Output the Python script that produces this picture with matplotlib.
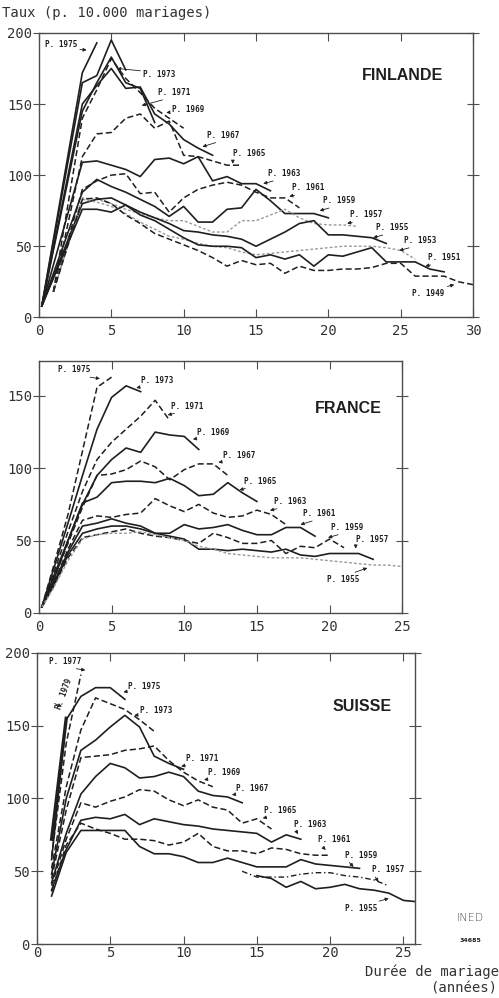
import matplotlib
matplotlib.use("Agg")
import matplotlib.pyplot as plt

# ---- Finlande : taux de divorce par promotion de mariage ----
FI_YEARS = [1975, 1973, 1971, 1969, 1967, 1965, 1963, 1961, 1959, 1957, 1955, 1953, 1951, 1949]
FI_X = [
    [0.2, 3, 4],
    [0.2, 3, 4, 5, 6],
    [0.2, 3, 4, 5, 6, 7, 8],
    [1, 3, 4, 5, 6, 7, 8, 9, 10],
    [0.2, 3, 4, 5, 6, 7, 8, 9, 10, 11, 12],
    [1] + list(range(3, 15)),
    [0.2] + list(range(3, 17)),
    [1] + list(range(3, 19)),
    [0.2] + list(range(3, 21)),
    [1] + list(range(3, 23)),
    [0.2] + list(range(3, 25)),
    [1] + list(range(3, 27)),
    [0.2] + list(range(3, 29)),
    [1] + list(range(3, 31)),
]
FI_Y = [
    [8, 172, 193],
    [8, 165, 170, 195, 174],
    [8, 145, 165, 183, 165, 161, 137],
    [18, 140, 160, 182, 168, 158, 147, 140, 133],
    [8, 150, 163, 175, 161, 162, 143, 136, 125, 119, 114],
    [18, 113, 129, 130, 140, 143, 133, 138, 114, 113, 110, 107, 107],
    [8, 109, 110, 107, 104, 99, 111, 112, 108, 113, 96, 99, 94, 94, 89],
    [18, 90, 96, 100, 101, 87, 88, 74, 84, 90, 93, 95, 93, 88, 84, 84, 77],
    [8, 88, 97, 92, 88, 83, 78, 71, 78, 67, 67, 76, 77, 90, 82, 73, 73, 73, 70],
    [18, 84, 83, 80, 76, 73, 70, 68, 68, 64, 60, 60, 68, 68, 72, 76, 70, 66, 65, 65, 64],
    [8, 80, 83, 84, 79, 74, 70, 66, 61, 60, 58, 57, 55, 50, 55, 60, 66, 68, 58, 58, 57, 56, 52],
    [18, 83, 81, 78, 73, 67, 62, 57, 55, 52, 50, 49, 46, 44, 45, 46, 47, 48, 49, 50, 50, 50, 49, 47, 41],
    [8, 76, 76, 74, 79, 72, 68, 62, 56, 51, 50, 50, 49, 42, 44, 41, 44, 36, 44, 43, 46, 49, 39, 39, 39, 34, 32],
    [18, 83, 84, 80, 72, 66, 59, 55, 51, 47, 42, 36, 40, 37, 38, 31, 36, 33, 33, 34, 34, 35, 38, 38, 29, 29, 29, 25, 23],
]
FI_STYLE = ["s", "s", "s", "d", "s", "d", "s", "d", "s", "l", "s", "l", "s", "d"]
# label text position, arrow tip (data units)
FI_LAB = [(0.4, 192), (7.2, 171), (8.2, 158), (9.2, 146), (11.6, 128), (13.4, 115), (15.8, 101),
          (17.5, 91), (19.6, 82), (21.5, 72), (23.3, 63), (25.2, 54), (26.9, 42), (25.8, 17)]
FI_TIP = [(3.3, 188), (5.4, 175), (7.1, 149), (8.8, 144), (11.3, 120), (13.4, 108), (15.5, 94),
          (17.3, 85), (19.4, 75), (21.3, 66), (23.1, 56), (24.9, 47), (26.7, 36), (28.7, 23)]

# ---- France ----
FR_YEARS = [1975, 1973, 1971, 1969, 1967, 1965, 1963, 1961, 1959, 1957, 1955]
FR_Y = [
    [4, 32, 68, 112, 156, 163],
    [4, 30, 62, 95, 127, 149, 157, 153],
    [4, 27, 56, 84, 106, 118, 127, 136, 147, 133],
    [4, 25, 50, 75, 95, 106, 114, 111, 125, 123, 122, 113],
    [4, 23, 48, 73, 95, 96, 99, 105, 101, 92, 99, 103, 103, 95],
    [4, 22, 50, 76, 80, 90, 91, 91, 90, 93, 88, 81, 82, 90, 83, 77],
    [4, 20, 44, 64, 67, 66, 68, 69, 79, 74, 70, 75, 69, 66, 67, 71, 68, 61],
    [4, 19, 40, 55, 58, 60, 60, 58, 55, 55, 61, 58, 59, 61, 57, 54, 54, 59, 59, 53],
    [4, 18, 38, 52, 54, 56, 58, 55, 53, 52, 50, 48, 55, 52, 48, 48, 50, 41, 46, 45, 51, 45],
    [4, 20, 42, 60, 62, 65, 62, 60, 55, 53, 51, 44, 44, 43, 44, 43, 42, 44, 40, 39, 41, 41, 41, 37],
    [4, 17, 36, 51, 54, 55, 55, 56, 54, 52, 50, 46, 44, 41, 40, 39, 38, 38, 38, 37, 36, 35, 34, 33, 33, 32],
]
FR_X = [[0.2] + list(range(1, len(y))) for y in FR_Y]
FR_STYLE = ["d", "s", "d", "s", "d", "s", "d", "s", "d", "s", "l"]
FR_LAB = [(1.3, 168), (7.0, 161), (9.1, 143), (10.9, 125), (12.65, 109), (14.1, 91), (16.2, 77),
          (18.2, 68.5), (20.1, 59), (21.8, 51), (19.8, 23)]
FR_TIP = [(4.2, 162), (6.7, 155.6), (8.86, 136.8), (10.6, 120), (12.35, 104), (13.8, 85), (15.9, 70.8),
          (18.0, 61), (19.9, 52), (21.8, 44.4), (22.6, 31)]

# ---- Suisse ----
CH_YEARS = [1979, 1977, 1975, 1973, 1971, 1969, 1967, 1965, 1963, 1961, 1959, 1957, 1955]
CH_Y = [
    [72, 155],
    [60, 138, 185],
    [58, 154, 170, 176, 176, 168],
    [52, 108, 147, 169, 165, 161, 154, 146],
    [48, 100, 133, 140, 149, 157, 149, 129, 124, 120],
    [45, 92, 128, 129, 130, 133, 134, 136, 126, 118, 112, 108],
    [42, 76, 103, 115, 124, 121, 114, 115, 118, 115, 105, 102, 101, 97],
    [40, 72, 97, 94, 98, 101, 106, 105, 99, 95, 99, 94, 92, 83, 86, 79],
    [37, 65, 85, 87, 86, 89, 82, 86, 84, 82, 81, 79, 78, 77, 76, 70, 75, 72],
    [36, 68, 83, 79, 76, 72, 72, 71, 68, 70, 76, 67, 64, 64, 62, 66, 65, 62, 61, 61],
    [33, 63, 78, 78, 78, 78, 67, 62, 62, 60, 56, 56, 59, 56, 53, 53, 53, 58, 55, 54, 53, 52],
    [50, 46, 46, 46, 48, 49, 49, 47, 46, 44, 40],
    [47, 45, 39, 43, 38, 39, 41, 38, 37, 35, 30, 29],
]
CH_START = [1, 1, 1, 1, 1, 1, 1, 1, 1, 1, 1, 14, 15]
CH_X = [list(range(s, s + len(y))) for s, y in zip(CH_START, CH_Y)]
CH_STYLE = ["t", "d", "s", "d", "s", "d", "s", "d", "s", "d", "s", "dd", "s"]
CH_LAB = [(1.2, 172), (0.8, 194), (6.2, 177), (7.0, 160), (10.2, 127.6), (11.7, 117.7), (13.6, 107),
          (15.5, 92), (17.55, 82), (19.2, 71.5), (21.0, 61), (22.85, 51), (21.0, 24.5)]
CH_TIP = [(1.7, 163), (3.3, 188), (5.9, 173), (6.64, 157), (9.84, 122), (11.4, 112.7), (13.3, 102.4),
          (15.4, 86.4), (17.8, 75.4), (19.7, 64.6), (21.6, 53), (23.3, 42.8), (24.0, 31.4)]

INK = "0.12"
MONO = "DejaVu Sans Mono"
STYLES = {
    "s": dict(color=INK, lw=1.2, ls="-"),
    "t": dict(color=INK, lw=2.4, ls="-"),
    "d": dict(color=INK, lw=1.1, ls=(0, (4, 2))),
    "dd": dict(color=INK, lw=1.0, ls=(0, (4, 2, 1, 2))),
    "l": dict(color="0.6", lw=1.0, ls=(0, (2, 1.5))),
}


def draw_panel(ax, years, xs, ys, styles, labs, tips, name, name_pos, xlim, ylim, yticks, xticks,
               xpad=5):
    for yr, x, y, st, lab, tip in zip(years, xs, ys, styles, labs, tips):
        ax.plot(x, y, **STYLES[st])
        right = lab[0] > tip[0]
        rot = 70 if (name == "SUISSE" and yr == 1979) else 0
        ax.annotate(f"P. {yr}", xy=tip, xytext=lab, fontsize=5.5, family=MONO,
                    fontweight="bold", color=INK, rotation=rot,
                    ha="left", va="center",
                    arrowprops=dict(arrowstyle="-|>", lw=0.6, color=INK, mutation_scale=5,
                                    shrinkA=0, shrinkB=0,
                                    relpos=(1, 0.5) if right else (0, 0.2)))
    ax.text(name_pos[0], name_pos[1], name, family="Liberation Sans", fontweight="bold",
            fontsize=11.5, color=INK, ha="center", va="center")
    ax.set_xlim(*xlim)
    ax.set_ylim(*ylim)
    ax.set_yticks(yticks)
    ax.set_xticks(xticks)
    ax.tick_params(direction="in", top=True, right=True, length=6, width=0.8,
                   color="0.3", labelsize=10, labelcolor="0.2")
    ax.tick_params(axis="x", pad=xpad)
    ax.tick_params(axis="y", direction="inout", length=8, pad=1)
    for lbl in ax.get_xticklabels() + ax.get_yticklabels():
        lbl.set_family(MONO)
    for sp in ax.spines.values():
        sp.set_linewidth(1.0)
        sp.set_color("0.3")


fig = plt.figure(figsize=(4.99, 9.98), dpi=100)

ax1 = fig.add_axes([0.078, 0.682, 0.870, 0.285])
draw_panel(ax1, FI_YEARS, FI_X, FI_Y, FI_STYLE, FI_LAB, FI_TIP, "FINLANDE", (25.1, 170),
           (0, 30), (0, 200), range(0, 201, 50), range(0, 31, 5))

ax2 = fig.add_axes([0.078, 0.386, 0.728, 0.252])
draw_panel(ax2, FR_YEARS, FR_X, FR_Y, FR_STYLE, FR_LAB, FR_TIP, "FRANCE", (21.3, 141),
           (0, 25), (0, 174), range(0, 151, 50), range(0, 26, 5))

ax3 = fig.add_axes([0.074, 0.054, 0.758, 0.292])
draw_panel(ax3, CH_YEARS, CH_X, CH_Y, CH_STYLE, CH_LAB, CH_TIP, "SUISSE", (22.2, 163),
           (0, 25.8), (0, 200), range(0, 201, 50), range(0, 26, 5), xpad=1.5)

fig.text(0.004, 0.987, "Taux (p. 10.000 mariages)", family=MONO, fontsize=10,
         color="0.2", ha="left", va="center")
fig.text(1.0, 0.026, "Durée de mariage", family=MONO, fontsize=10, color="0.2",
         ha="right", va="center")
fig.text(0.996, 0.010, "(années)", family=MONO, fontsize=10, color="0.2",
         ha="right", va="center")
fig.text(0.942, 0.080, "INED", family="DejaVu Sans", fontsize=8, color="0.3",
         ha="center", va="center", fontweight="light")
fig.text(0.942, 0.058, "34685", family="DejaVu Sans", fontsize=4.5, color=INK,
         ha="center", va="center", fontweight="bold")

fig.savefig("out.png", dpi=100)
